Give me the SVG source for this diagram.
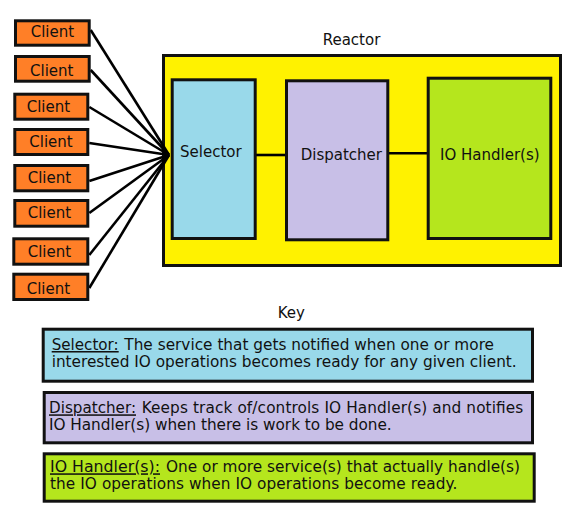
<svg xmlns="http://www.w3.org/2000/svg" width="580" height="521" viewBox="0 0 580 521">
<style>
  text { font-family: "DejaVu Sans", Verdana, sans-serif; font-size: 15px; fill: #111; }
  .k { font-size: 15.3px; }
  .box { stroke: #111; stroke-width: 3; }
  .client { fill: #FF7F27; }
  .reactor { fill: #FFF200; }
  .sel { fill: #99D9EA; }
  .disp { fill: #C8BFE7; }
  .io { fill: #B5E61D; }
  .conn line { stroke: #000; stroke-width: 2.6; }
  .u { text-decoration: underline; }
</style>
<rect width="580" height="521" fill="#fff"/>

<g id="reactor">
  <rect class="box reactor" x="163.5" y="55.5" width="397" height="210"/>
  <text x="322.7" y="45">Reactor</text>
</g>

<g class="conn" id="connectors">
  <line x1="90.7" y1="30" x2="169" y2="155"/>
  <line x1="90.7" y1="70" x2="169" y2="155"/>
  <line x1="89.3" y1="107" x2="169" y2="155"/>
  <line x1="89.3" y1="143" x2="169" y2="155"/>
  <line x1="89.3" y1="181" x2="169" y2="155"/>
  <line x1="89.3" y1="213" x2="169" y2="155"/>
  <line x1="89.3" y1="255" x2="169" y2="155"/>
  <line x1="89.3" y1="288" x2="169" y2="155"/>
  <line x1="255" y1="155" x2="287" y2="155"/>
  <line x1="388" y1="153.3" x2="429" y2="153.3"/>
</g>

<g id="client1"><rect class="box client" x="15.5" y="20.8" width="73.7" height="24.4"/><text x="30.7" y="36.7">Client</text></g>
<g id="client2"><rect class="box client" x="15.5" y="56.5" width="73.7" height="24.7"/><text x="30" y="76">Client</text></g>
<g id="client3"><rect class="box client" x="14.8" y="94.2" width="73" height="25"/><text x="26.7" y="112.3">Client</text></g>
<g id="client4"><rect class="box client" x="14.8" y="129.5" width="73" height="25"/><text x="29.3" y="147.3">Client</text></g>
<g id="client5"><rect class="box client" x="14.8" y="165.5" width="73" height="25.3"/><text x="27.7" y="183.3">Client</text></g>
<g id="client6"><rect class="box client" x="14.8" y="200.5" width="73" height="25.7"/><text x="27.7" y="218.3">Client</text></g>
<g id="client7"><rect class="box client" x="13.8" y="238.8" width="74" height="25.4"/><text x="27.7" y="256.7">Client</text></g>
<g id="client8"><rect class="box client" x="13.8" y="274.2" width="74" height="25.3"/><text x="26.7" y="294">Client</text></g>

<g id="selector"><rect class="box sel" x="172.2" y="79.8" width="83" height="158.7"/><text x="180" y="157.3">Selector</text></g>
<g id="dispatcher"><rect class="box disp" x="286.5" y="80.8" width="101.3" height="159"/><text x="300.7" y="159.5">Dispatcher</text></g>
<g id="iohandler"><rect class="box io" x="428.2" y="78.2" width="122.6" height="160.3"/><text x="440" y="159.5">IO Handler(s)</text></g>

<g id="key-title"><text x="277.7" y="318.3">Key</text></g>

<g id="key-selector">
  <rect class="box sel" x="43.2" y="329.2" width="489.3" height="52"/>
  <text class="k u" x="51.7" y="350" textLength="67" lengthAdjust="spacingAndGlyphs">Selector:</text>
  <text class="k" x="124.3" y="350" textLength="369.7" lengthAdjust="spacing">The service that gets notified when one or more</text>
  <text class="k" x="51.7" y="366.7" textLength="465" lengthAdjust="spacing">interested IO operations becomes ready for any given client.</text>
</g>
<g id="key-dispatcher">
  <rect class="box disp" x="44.2" y="392.5" width="488.3" height="50.3"/>
  <text class="k u" x="49" y="413.3" textLength="87" lengthAdjust="spacingAndGlyphs">Dispatcher:</text>
  <text class="k" x="141.7" y="413.3" textLength="381.6" lengthAdjust="spacing">Keeps track of/controls IO Handler(s) and notifies</text>
  <text class="k" x="49" y="430" textLength="342.7" lengthAdjust="spacing">IO Handler(s) when there is work to be done.</text>
</g>
<g id="key-io">
  <rect class="box io" x="44.2" y="453.8" width="490" height="47.4"/>
  <text class="k u" x="50" y="472.3" textLength="110" lengthAdjust="spacingAndGlyphs">IO Handler(s):</text>
  <text class="k" x="166" y="472.3" textLength="354" lengthAdjust="spacing">One or more service(s) that actually handle(s)</text>
  <text class="k" x="50" y="489" textLength="407.3" lengthAdjust="spacing">the IO operations when IO operations become ready.</text>
</g>
</svg>
